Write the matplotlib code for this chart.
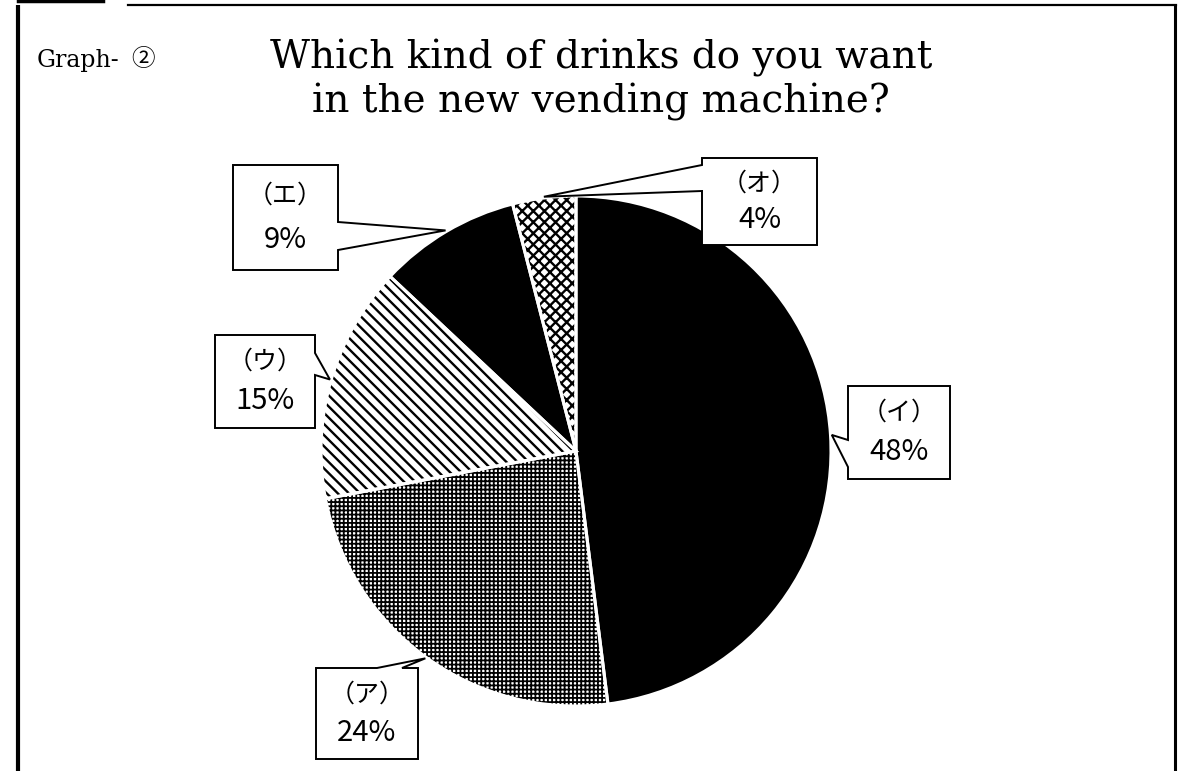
import math

import matplotlib.pyplot as plt
from matplotlib.patches import Polygon

# data
labels = ["（イ）", "（ア）", "（ウ）", "（エ）", "（オ）"]
shares = [48, 24, 15, 9, 4]
fills = ["black", "white", "white", "black", "white"]
hatches = ["", "++++", "\\\\\\", "", "xxx"]

title = "Which kind of drinks do you want\nin the new vending machine?"
tag = "Graph-"
tag_num = "②"

W, H = 1182, 771

# callout boxes in picture pixels (y down): x0, y0, x1, y1, side, base0, base1
boxes = [
    (848, 386, 950, 479, "left", 440, 467),
    (316, 668, 418, 759, "top", 377, 402),
    (215, 335, 315, 428, "right", 353, 375),
    (233, 165, 338, 270, "right", 222, 250),
    (702, 158, 817, 245, "left", 165, 191),
]

jp = ["Noto Sans CJK JP", "DejaVu Sans"]


def bubble(box, tip):
    x0, y0, x1, y1, side, b0, b1 = box
    if side == "left":
        pts = [(x0, y0), (x1, y0), (x1, y1), (x0, y1), (x0, b1), None, (x0, b0)]
    elif side == "right":
        pts = [(x0, y0), (x1, y0), (x1, b0), None, (x1, b1), (x1, y1), (x0, y1)]
    else:
        pts = [(x0, y0), (b0, y0), None, (b1, y0), (x1, y0), (x1, y1), (x0, y1)]
    return [tip if p is None else (p[0], H - p[1]) for p in pts]


plt.rcParams["hatch.linewidth"] = 1.7

fig = plt.figure(figsize=(W / 100, H / 100), dpi=100)
ax = fig.add_axes([0, 0, 1, 1])

center = (576, H - 451)
wedges, _ = ax.pie(
    shares,
    startangle=90,
    counterclock=False,
    center=center,
    radius=255,
    colors=fills,
    hatch=hatches,
    wedgeprops=dict(linewidth=0, edgecolor="black"),
)
# finer dots for (ア)
if hasattr(wedges[1], "set_hatch_linewidth"):
    wedges[1].set_hatch_linewidth(1.3)

# white gaps between the slices
ax.pie(
    shares,
    startangle=90,
    counterclock=False,
    center=center,
    radius=255,
    colors=["none"] * len(shares),
    wedgeprops=dict(linewidth=2.2, edgecolor="white"),
)

ax.set_xlim(0, W)
ax.set_ylim(0, H)
ax.axis("off")

for w, box, lab, v in zip(wedges, boxes, labels, shares):
    ang = math.radians((w.theta1 + w.theta2) / 2)
    tip = (w.center[0] + w.r * 1.005 * math.cos(ang),
           w.center[1] + w.r * 1.005 * math.sin(ang))
    ax.add_patch(Polygon(bubble(box, tip), closed=True, facecolor="white",
                         edgecolor="black", linewidth=1.4, zorder=5))
    x0, y0, x1, y1 = box[:4]
    cx = (x0 + x1) / 2
    h = y1 - y0
    ax.text(cx, H - (y0 + 0.29 * h), lab, ha="center", va="center",
            fontsize=18, family=jp, zorder=6)
    ax.text(cx, H - (y0 + 0.71 * h), f"{v}%", ha="center", va="center",
            fontsize=21, family=jp, zorder=6)

# title and tag
ax.text(601, H - 80, title, ha="center", va="center", fontsize=28,
        family="DejaVu Serif", linespacing=1.2)
ax.text(37, H - 60, tag, ha="left", va="center", fontsize=17,
        family="DejaVu Serif")
ax.text(143, H - 60, tag_num, ha="center", va="center", fontsize=17,
        family=jp)

# frame
ax.plot([18, 18], [0, H - 5], color="black", linewidth=3, solid_capstyle="butt")
ax.plot([1175, 1175], [0, H - 5], color="black", linewidth=2.2, solid_capstyle="butt")
ax.plot([128, 1176], [H - 5, H - 5], color="black", linewidth=1.6)
ax.plot([18, 103], [H - 1, H - 1], color="black", linewidth=2.5)

fig.savefig("out.png", dpi=100)
